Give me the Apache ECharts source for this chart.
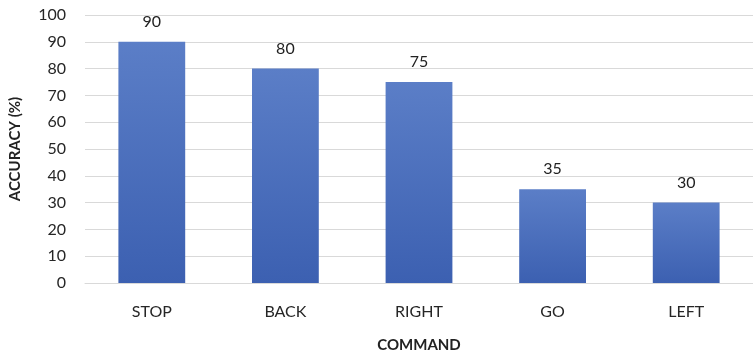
<!DOCTYPE html>
<html>
<head>
<meta charset="utf-8">
<script src="https://cdn.jsdelivr.net/npm/echarts@6/dist/echarts.min.js"></script>
<style>
  html, body { margin: 0; padding: 0; background: #fff; }
  #chart { width: 753px; height: 358px; }
</style>
</head>
<body>
<div id="chart"></div>
<script>
// Recognition accuracy per voice command
const commands = ['STOP', 'BACK', 'RIGHT', 'GO', 'LEFT'];
const accuracy = [90, 80, 75, 35, 30];
const yTicks = { min: 0, max: 100, interval: 10 };

const font = 'Lato, "Open Sans", "Liberation Sans", sans-serif';
const chart = echarts.init(document.getElementById('chart'));

chart.setOption({
  animation: false,
  grid: { left: 81, top: 15, width: 682, height: 275 },
  xAxis: {
    type: 'category',
    data: commands,
    name: 'COMMAND',
    nameLocation: 'middle',
    nameGap: 55,
    nameTextStyle: { fontFamily: font, fontWeight: 'bold', fontSize: 15, color: '#222' },
    axisLine: { show: true, lineStyle: { color: '#d9d9d9', width: 1 } },
    axisTick: { show: false },
    axisLabel: { fontFamily: font, fontSize: 16, color: '#262626', margin: 21 }
  },
  yAxis: {
    type: 'value',
    min: yTicks.min,
    max: yTicks.max,
    interval: yTicks.interval,
    name: 'ACCURACY (%)',
    nameLocation: 'middle',
    nameGap: 62,
    nameTextStyle: { fontFamily: font, fontWeight: 'bold', fontSize: 15, color: '#222' },
    axisLine: { show: false },
    axisTick: { show: false },
    axisLabel: { fontFamily: font, fontSize: 16, color: '#262626', margin: 19 },
    splitLine: { lineStyle: { color: '#d9d9d9', width: 1 } }
  },
  series: [{
    type: 'bar',
    data: accuracy,
    barWidth: '50%',
    itemStyle: {
      color: new echarts.graphic.LinearGradient(0, 0, 0, 1, [
        { offset: 0, color: '#5b7ec7' },
        { offset: 1, color: '#3c60b1' }
      ])
    },
    label: {
      show: true,
      position: 'top',
      distance: 12,
      fontFamily: font,
      fontSize: 16,
      color: '#222'
    }
  }]
});
</script>
</body>
</html>
